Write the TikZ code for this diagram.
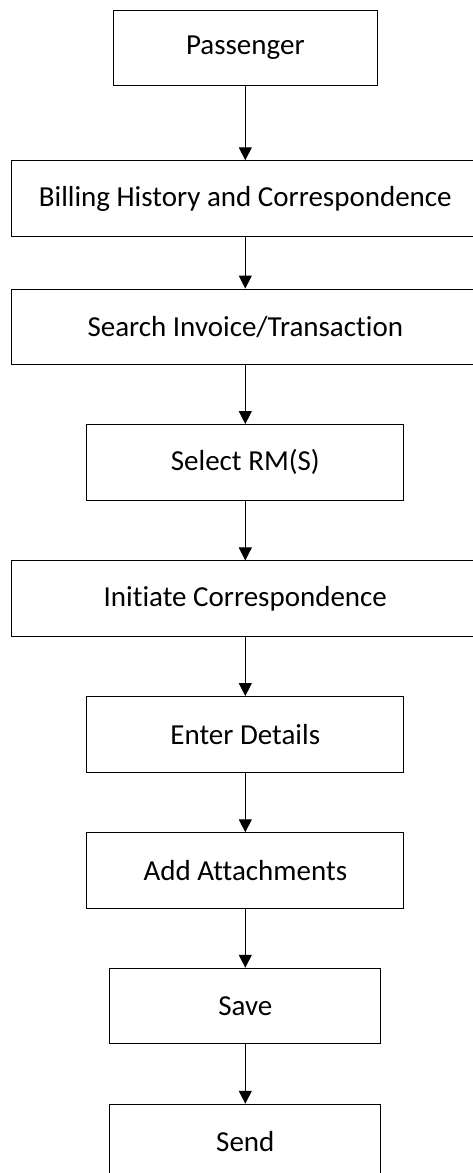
\documentclass[tikz,border=0pt]{standalone}
\usepackage{fontspec}
\setmainfont{Carlito}[RawFeature=-liga]
\usetikzlibrary{arrows.meta}
\begin{document}
\begin{tikzpicture}[x=1pt,y=-1pt,
  flowbox/.style={draw=black,line width=1pt,inner sep=0pt,align=center,
    font=\fontsize{29}{34}\selectfont,minimum height=75.5pt},
  flowarrow/.style={draw=black,line width=1pt,-{Triangle[width=13pt,length=13pt]}}]
\useasboundingbox (0,0) rectangle (473,1173);
\node[flowbox,minimum width=264.3pt] (p) at (245.3,48) {Passenger};
\node[flowbox,minimum width=468pt] (b) at (245.3,198.5) {Billing History and Correspondence};
\node[flowbox,minimum width=468pt] (s) at (245.3,326.8) {Search Invoice/Transaction};
\node[flowbox,minimum width=316.7pt] (r) at (245.3,462.3) {Select RM(S)};
\node[flowbox,minimum width=468pt] (i) at (245.3,598.7) {Initiate Correspondence};
\node[flowbox,minimum width=316.7pt] (e) at (245.3,734.3) {Enter Details};
\node[flowbox,minimum width=316.7pt] (a) at (245.3,870.5) {Add Attachments};
\node[flowbox,minimum width=271.3pt] (v) at (245.3,1006) {Save};
\node[flowbox,minimum width=271.3pt] (d) at (245.3,1142) {Send};
\draw[flowarrow] (p) -- (b);
\draw[flowarrow] (b) -- (s);
\draw[flowarrow] (s) -- (r);
\draw[flowarrow] (r) -- (i);
\draw[flowarrow] (i) -- (e);
\draw[flowarrow] (e) -- (a);
\draw[flowarrow] (a) -- (v);
\draw[flowarrow] (v) -- (d);
\end{tikzpicture}
\end{document}
